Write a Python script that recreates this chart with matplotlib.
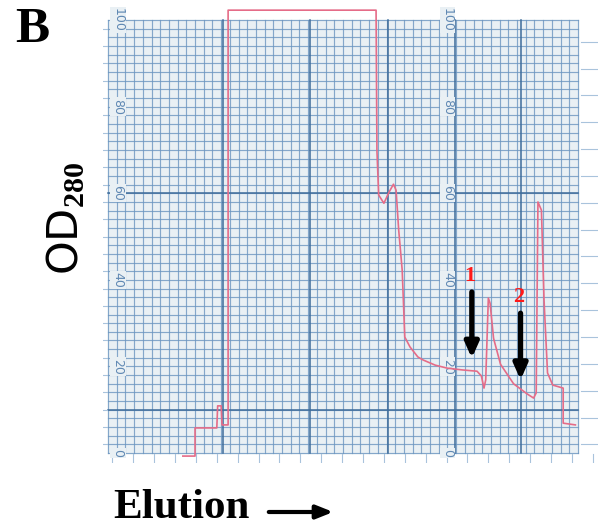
import matplotlib
matplotlib.use("Agg")
import matplotlib.pyplot as plt
import numpy as np

plt.rcParams['mathtext.fontset'] = 'custom'
plt.rcParams['mathtext.rm'] = 'Liberation Serif:bold'
plt.rcParams['mathtext.bf'] = 'Liberation Serif:bold'

# ---- data (elution in chart divisions, OD280 in % full scale) ----
elution = [8.6, 10.0, 10.0, 12.5, 12.6, 13.0, 13.1, 13.8, 13.8, 30.8, 30.9, 31.1,
           31.7, 32.3, 32.8, 33.1, 33.4, 33.8, 34.1, 34.7, 35.6, 36.2, 37.6, 39.0,
           40.7, 42.4, 42.9, 43.2, 43.4, 43.7, 43.9, 44.3, 45.1, 46.6, 48.2, 48.9,
           49.2, 49.4, 49.8, 50.1, 50.5, 51.1, 52.3, 52.3, 53.7]
od280 = [-0.7, -0.7, 5.8, 5.8, 10.9, 10.9, 6.5, 6.5, 102.3, 102.3, 69.9, 59.6,
         57.7, 60.3, 62.1, 60.7, 51.5, 42.3, 26.8, 24.5, 22.2, 21.5, 20.3, 19.6,
         19.2, 18.9, 17.8, 15.0, 16.9, 35.8, 34.6, 26.5, 20.5, 16.0, 13.6, 12.7,
         13.9, 58.0, 56.1, 35.3, 18.5, 15.7, 15.0, 6.9, 6.5]

arrow_labels = ['1', '2']
arrow_x = [41.8, 47.4]
arrow_top = [37.2, 32.3]
arrow_tip = [21.9, 16.9]

scale_labels = ['0', '20', '40', '60', '80', '100']
scale_values = [0, 20, 40, 60, 80, 100]
bold_x = [13.2, 23.2, 32.2, 39.9, 47.4]
bold_y = [10, 60]

W, H = 598, 529
fig = plt.figure(figsize=(W / 100, H / 100), dpi=100)
fig.patch.set_facecolor('white')

# paper area in pixels: x 103..598, y 8..463
ax = fig.add_axes([103 / W, 1 - 463 / H, (598 - 103) / W, (463 - 8) / H])
ax.set_facecolor('#f4efdd')
ax.set_xlim(-0.575, 56.3)
ax.set_ylim(-2.3, 102.8)
ax.axis('off')

gx0, gx1, gy0, gy1 = 0, 54, 0, 100
ax.fill_between([gx0, gx1], gy0, gy1, color='#e9f0f4', zorder=0)

grid_c = '#6b95c0'
for xv in np.arange(gx0, gx1 + 0.01, 1):
    ax.plot([xv, xv], [gy0, gy1], color=grid_c, lw=0.85, alpha=0.8, zorder=1)
for yv in np.arange(gy0, gy1 + 0.01, 2):
    ax.plot([gx0, gx1], [yv, yv], color=grid_c, lw=0.85, alpha=0.8, zorder=1)
for xv in bold_x:
    ax.plot([xv, xv], [gy0, gy1], color='#3e6c9b', lw=1.1, zorder=1)
for yv in bold_y:
    ax.plot([gx0, gx1], [yv, yv], color='#3e6c9b', lw=1.1, zorder=1)

# paper margin marks
for xv in np.arange(0.5, 56, 2.4):
    ax.plot([xv, xv], [-2.3, -0.3], color='#a9c3dc', lw=0.8, zorder=1)
for yv in np.arange(2, 101, 6.2):
    ax.plot([54.3, 56.3], [yv, yv], color='#a9c3dc', lw=0.8, zorder=1)
for yv in np.arange(2, 101, 4.0):
    ax.plot([-0.575, -0.1], [yv, yv], color='#a9c3dc', lw=0.8, zorder=1)

# printed scale numbers on the paper
for lab, v in zip(scale_labels, scale_values):
    for xc in (1.15, 39.0):
        ax.text(xc, v, lab, rotation=-90, ha='center', va='center',
                color='#5f88b3', fontsize=9, zorder=2,
                bbox=dict(boxstyle='square,pad=0.1', fc='#e9f0f4', ec='none'))

# trace
ax.plot(elution, od280, color='#e56c88', lw=1.2, zorder=4, clip_on=False)

# arrows and labels
for lab, xa, yt, yb in zip(arrow_labels, arrow_x, arrow_top, arrow_tip):
    ax.annotate('', xy=(xa, yb), xytext=(xa, yt),
                arrowprops=dict(arrowstyle='-|>,head_width=0.4,head_length=0.9',
                                color='black', lw=3.8, shrinkA=0, shrinkB=0),
                zorder=5)
    ax.text(xa - 0.2, yt + 3.8, lab, color='#ff1a1a', fontsize=16,
            fontweight='bold', family='Liberation Serif', ha='center',
            va='center', zorder=5)

# outer labels
fig.text(32 / W, 1 - 30 / H, 'B', fontsize=37, fontweight='bold',
         family='Liberation Serif', ha='center', va='center')
fig.text(66 / W, 1 - 218 / H, r'OD$_{280}$', fontsize=31, rotation=90,
         ha='center', va='center')
fig.text(113 / W, 1 - 508 / H, 'Elution', fontsize=31, fontweight='bold',
         family='Liberation Serif', ha='left', va='center')
fig.add_artist(matplotlib.patches.FancyArrowPatch(
    (266 / W, 1 - 512 / H), (336 / W, 1 - 512 / H), transform=fig.transFigure,
    arrowstyle='-|>,head_width=4,head_length=10', color='black', lw=3,
    mutation_scale=1))

fig.savefig('out.png', dpi=100, facecolor='white')
